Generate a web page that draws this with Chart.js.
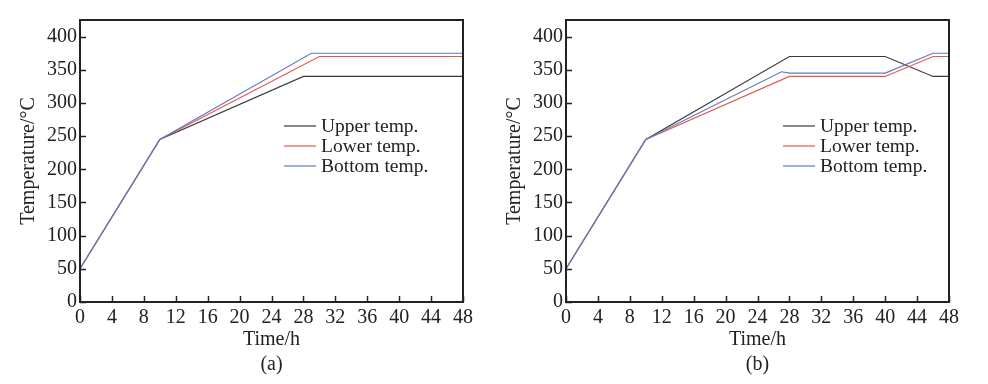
<!DOCTYPE html>
<html>
<head>
<meta charset="utf-8">
<script src="https://cdn.jsdelivr.net/npm/chart.js@4.4.0/dist/chart.umd.min.js"></script>
<style>
html,body{margin:0;padding:0;background:#fff;}
#wrap{position:relative;width:988px;height:384px;}
.box{position:absolute;top:0;width:494px;height:384px;}
</style>
</head>
<body>
<div id="wrap">
<div class="box" style="left:0"><canvas id="ca" width="494" height="384"></canvas></div>
<div class="box" style="left:494px"><canvas id="cb" width="494" height="384"></canvas></div>
</div>
<script>
// Data (time in h, temperature in °C)
const seriesLabels = ['Upper temp.', 'Lower temp.', 'Bottom temp.'];
const seriesColors = ['#3a3a3a', '#e8574e', '#5b7cc6'];
const xTicks = [0,4,8,12,16,20,24,28,32,36,40,44,48];
const yTicks = [0,50,100,150,200,250,300,350,400];

// Panel (a)
const aUpperT = [0, 10, 28, 48];
const aUpperV = [50, 245, 340, 340];
const aLowerT = [0, 10, 30, 48];
const aLowerV = [50, 245, 370, 370];
const aBottomT = [0, 10, 29, 48];
const aBottomV = [50, 245, 375, 375];

// Panel (b)
const bUpperT = [0, 10, 28, 40, 46, 48];
const bUpperV = [50, 245, 370, 370, 340, 340];
const bLowerT = [0, 10, 28, 40, 46, 48];
const bLowerV = [50, 245, 340, 340, 370, 370];
const bBottomT = [0, 10, 27, 28, 40, 46, 48];
const bBottomV = [50, 245, 347, 345, 345, 375, 375];

const FONT = "'Liberation Serif', 'Times New Roman', serif";

function pts(t, v){ return t.map((x,i)=>({x:x, y:v[i]})); }

const framePlugin = {
  id: 'frame',
  afterDatasetsDraw(chart, args, opts){
    const {ctx, chartArea:a, scales:{x, y}} = chart;
    ctx.save();
    // inward ticks
    ctx.strokeStyle = '#222';
    ctx.lineWidth = 1.5;
    ctx.beginPath();
    xTicks.forEach(t=>{
      const px = Math.round(x.getPixelForValue(t)) + 0.5;
      ctx.moveTo(px, a.bottom); ctx.lineTo(px, a.bottom - 6);
    });
    yTicks.forEach(t=>{
      const py = Math.round(y.getPixelForValue(t)) + 0.5;
      ctx.moveTo(a.left, py); ctx.lineTo(a.left + 6, py);
    });
    ctx.stroke();
    // box
    ctx.lineWidth = 2;
    ctx.strokeStyle = '#222';
    ctx.strokeRect(a.left, a.top, a.right - a.left, a.bottom - a.top);
    // legend
    ctx.font = '19.5px ' + FONT;
    ctx.textBaseline = 'middle';
    ctx.textAlign = 'left';
    chart.data.datasets.forEach((ds, i)=>{
      const ly = opts.legendY + i * 20;
      ctx.strokeStyle = ds.borderColor;
      ctx.lineWidth = 1.2;
      ctx.beginPath();
      ctx.moveTo(opts.legendX, ly); ctx.lineTo(opts.legendX + 32, ly);
      ctx.stroke();
      ctx.fillStyle = '#222';
      ctx.fillText(ds.label, opts.legendX + 37, ly + 1);
    });
    // panel caption
    ctx.textAlign = 'center';
    ctx.font = '20px ' + FONT;
    ctx.fillText(opts.caption, (a.left + a.right) / 2, 365);
    ctx.restore();
  }
};

function makeChart(id, sets, leftW, rightPad, titlePad, legendX, caption){
  const datasets = sets.map((s, i)=>({
    label: seriesLabels[i],
    data: pts(s[0], s[1]),
    borderColor: seriesColors[i],
    backgroundColor: seriesColors[i],
    borderWidth: 1.1,
    pointRadius: 0,
    tension: 0,
    fill: false,
    order: sets.length - 1 - i
  }));
  return new Chart(document.getElementById(id), {
    type: 'line',
    data: { datasets },
    plugins: [framePlugin],
    options: {
      responsive: false,
      animation: false,
      layout: { padding: { top: 20, right: rightPad, left: 0, bottom: 0 } },
      plugins: {
        legend: { display: false },
        tooltip: { enabled: false },
        frame: { legendX: legendX, legendY: 126, caption: caption }
      },
      scales: {
        x: {
          type: 'linear', min: 0, max: 48,
          afterBuildTicks(s){ s.ticks = xTicks.map(v=>({value:v})); },
          afterFit(s){ s.height = 82; },
          grid: { display: false, drawTicks: false },
          border: { display: false },
          ticks: { color: '#222', font: { family: FONT, size: 20 }, padding: 4, maxRotation: 0, autoSkip: false },
          title: { display: true, text: 'Time/h', color: '#222', font: { family: FONT, size: 20 }, padding: { top: 0, bottom: 32 } }
        },
        y: {
          type: 'linear', min: 0, max: 425,
          afterBuildTicks(s){ s.ticks = yTicks.map(v=>({value:v})); },
          afterFit(s){ s.width = leftW; },
          grid: { display: false, drawTicks: false },
          border: { display: false },
          ticks: { color: '#222', font: { family: FONT, size: 20 }, padding: 3, autoSkip: false },
          title: { display: true, text: 'Temperature/°C', color: '#222', font: { family: FONT, size: 20 }, padding: { top: titlePad, bottom: 0 } }
        }
      }
    }
  });
}

makeChart('ca', [[aUpperT, aUpperV], [aLowerT, aLowerV], [aBottomT, aBottomV]], 80, 31, 17, 284, '(a)');
makeChart('cb', [[bUpperT, bUpperV], [bLowerT, bLowerV], [bBottomT, bBottomV]], 72, 39, 9, 289, '(b)');
</script>
</body>
</html>
